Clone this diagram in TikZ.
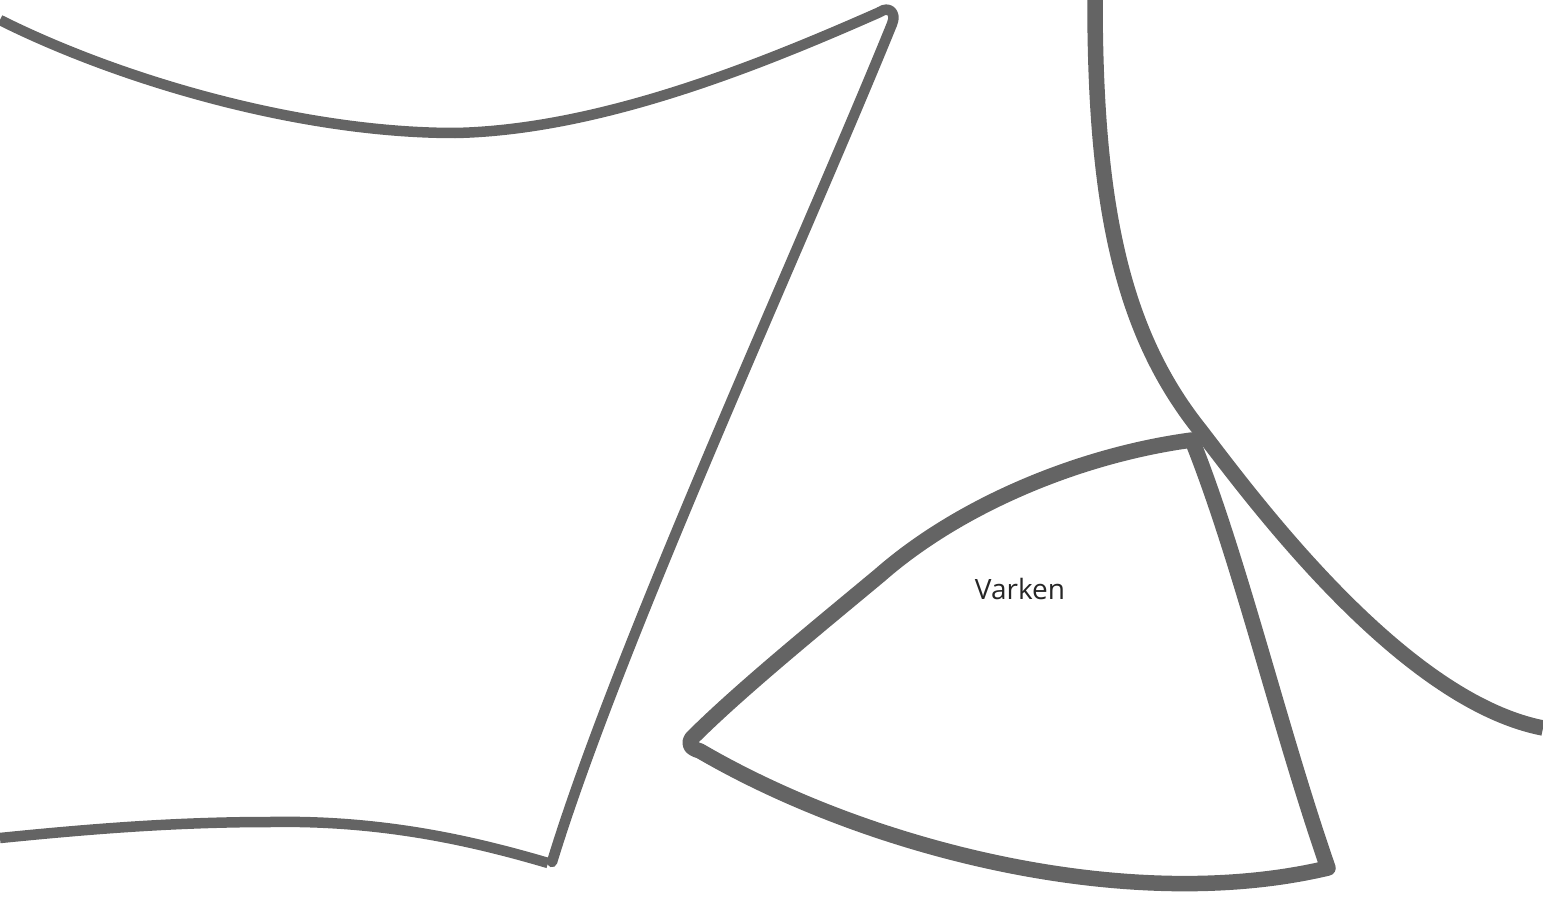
\documentclass[tikz,border=0pt]{standalone}
\usepackage{fontspec}
\setmainfont{Open Sans}
\definecolor{ink}{HTML}{646464}
\tikzset{
  thinline/.style={draw=ink, line width=10.5pt, line cap=round, line join=round},
  thickline/.style={draw=ink, line width=15.5pt, line cap=round, line join=round},
  lbl/.style={font=\fontsize{28}{32}\selectfont, text=black!85}
}
\begin{document}
\begin{tikzpicture}[x=1pt,y=-1pt]
\useasboundingbox (0,0) rectangle (1543,899);
% left shape
\draw[thinline, line cap=butt] (0,20) .. controls (120,80) and (300,133) .. (455,133)
  .. controls (600,130) and (760,65) .. (880,12);
\draw[thinline] (880,12) .. controls (888,6) and (897,12) .. (892,24)
  .. controls (800,250) and (620,640) .. (552,862);
\draw[thinline, line cap=butt] (548,863) .. controls (470,840) and (380,820) .. (270,822)
  .. controls (170,822) and (80,830) .. (0,838);
% right big curve
\draw[thickline, line cap=butt] (1095,0) .. controls (1095,200) and (1120,330) .. (1200,430)
  .. controls (1250,495) and (1400,700) .. (1543,728);
% triangle
\draw[thickline] (1192,440) .. controls (1080,455) and (960,505) .. (880,575)
  .. controls (820,625) and (740,690) .. (692,738)
  .. controls (688,744) and (690,748) .. (700,751)
  .. controls (870,850) and (1130,915) .. (1328,868)
  .. controls (1280,730) and (1240,560) .. cycle;
\node[lbl] (varken) at (1020,589) {Varken};
\end{tikzpicture}
\end{document}
